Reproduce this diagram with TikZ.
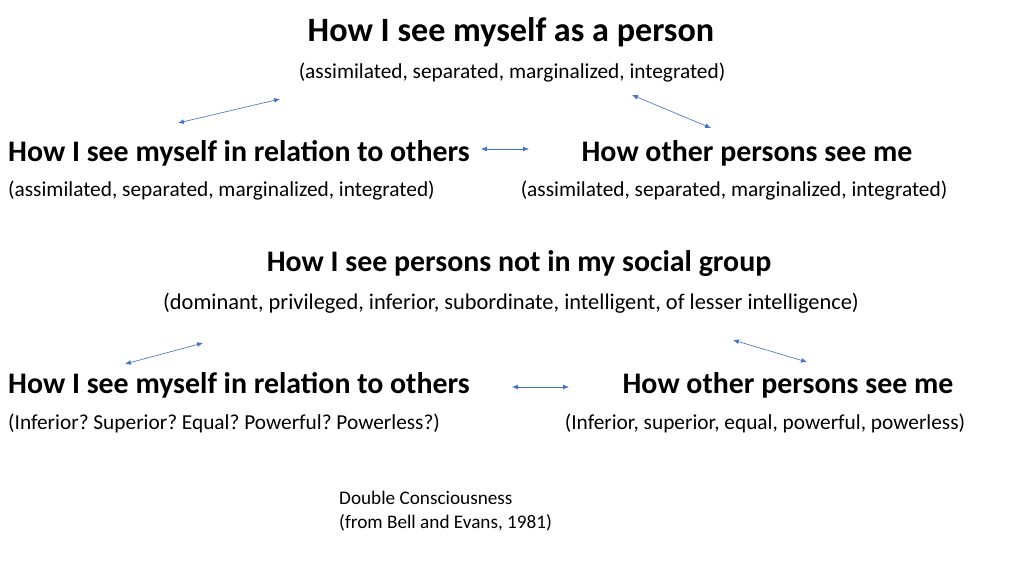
\documentclass[tikz,border=0pt]{standalone}
\usepackage{fontspec}
\setmainfont{Carlito}
\frenchspacing
\tikzset{
  head/.style={font=\bfseries\fontsize{28}{32}\selectfont, inner sep=0pt},
  note/.style={font=\fontsize{20}{24}\selectfont, inner sep=0pt},
  small/.style={font=\fontsize{18}{22.5}\selectfont, inner sep=0pt, align=left},
  link/.style={<->, >={Latex[length=5.5pt,width=4.5pt]}, draw={rgb,255:red,68;green,114;blue,196}, line width=0.6pt}
}
\usetikzlibrary{arrows.meta}
\begin{document}
\begin{tikzpicture}[x=0.9375pt,y=-0.9375pt]
  \useasboundingbox (0,0) rectangle (1024,575);
  % top
  \node[head, font=\bfseries\fontsize{32}{36}\selectfont] (self) at (511,32) {How I see myself as a person};
  \node[note] (selfopt) at (512,73) {(assimilated, separated, marginalized, integrated)};
  \node[head, anchor=west] (relA) at (8,153) {How I see myself in relation to others};
  \node[note, anchor=west] (relAopt) at (8,191) {(assimilated, separated, marginalized, integrated)};
  \node[head] (othA) at (747,153) {How other persons see me};
  \node[note] (othAopt) at (734,191) {(assimilated, separated, marginalized, integrated)};
  % middle
  \node[head] (group) at (519,264) {How I see persons not in my social group};
  \node[note, font=\fontsize{21}{25}\selectfont] (groupopt) at (511,303) {(dominant, privileged, inferior, subordinate, intelligent, of lesser intelligence)};
  \node[head, anchor=west] (relB) at (8,385) {How I see myself in relation to others};
  \node[note, anchor=west] (relBopt) at (8,423) {(Inferior? Superior? Equal? Powerful? Powerless?)};
  \node[head] (othB) at (788,385) {How other persons see me};
  \node[note] (othBopt) at (765,423) {(Inferior, superior, equal, powerful, powerless)};
  % source
  \node[small, anchor=north west] (src) at (339,491) {Double Consciousness\\(from Bell and Evans, 1981)};
  % arrows
  \coordinate (a1) at (178,123); \coordinate (a2) at (280,99);
  \coordinate (b1) at (632,95);  \coordinate (b2) at (711,128);
  \coordinate (c1) at (481,149); \coordinate (c2) at (529,149);
  \coordinate (d1) at (125,364); \coordinate (d2) at (203,343);
  \coordinate (e1) at (733,340); \coordinate (e2) at (807,362);
  \coordinate (f1) at (512,387); \coordinate (f2) at (569,387);
  \foreach \p/\q in {a1/a2,b1/b2,c1/c2,d1/d2,e1/e2,f1/f2}
    \draw[link] (\p) -- (\q);
\end{tikzpicture}
\end{document}
